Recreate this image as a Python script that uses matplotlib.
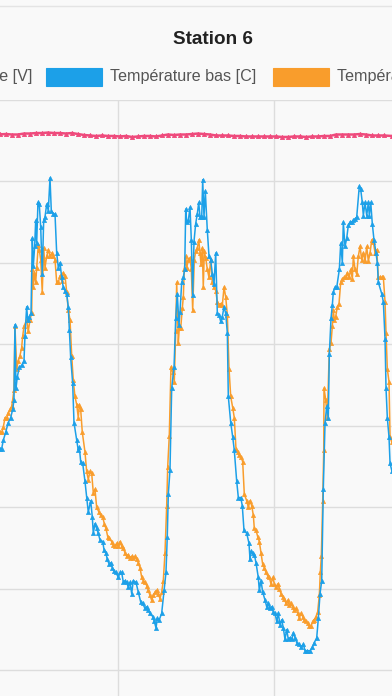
import matplotlib
matplotlib.use("Agg")
import matplotlib.pyplot as plt
from matplotlib.patches import Rectangle
from matplotlib.lines import Line2D

# hours relative to midnight of day 1, temperatures in C
bas_h = [-18.15, -17.89, -17.65, -17.28, -16.88, -16.51, -16.2, -16.0, -15.85, -15.69,
         -15.49, -15.18, -14.82, -14.46, -14.31, -14.05, -13.89, -13.65, -13.38, -13.18,
         -13.03, -12.82, -12.66, -12.51, -12.31, -12.11, -11.89, -11.65, -11.43, -11.23,
         -10.97, -10.72, -10.46, -10.26, -9.95, -9.69, -9.43, -9.18, -8.92, -8.66,
         -8.42, -8.15, -7.89, -7.65, -7.49, -7.28, -6.97, -6.77, -6.35, -6.11,
         -5.95, -5.74, -5.43, -5.08, -4.82, -4.57, -4.2, -3.95, -3.8, -3.54,
         -3.28, -3.03, -2.77, -2.35, -2.15, -1.85, -1.65, -1.34, -1.12, -0.88,
         -0.62, -0.31, 0.05, 0.31, 0.57, 0.82, 1.08, 1.34, 1.58, 1.85,
         2.11, 2.35, 2.77, 3.12, 3.49, 3.8, 4.15, 4.42, 4.66, 4.92,
         5.34, 5.58, 5.85, 6.05, 6.35, 6.72, 7.08, 7.38, 7.58, 7.74,
         8.0, 8.26, 8.62, 8.88, 9.12, 9.38, 9.54, 9.8, 10.05, 10.26,
         10.42, 10.57, 10.82, 11.08, 11.28, 11.49, 11.69, 11.95, 12.2, 12.42,
         12.62, 12.88, 13.03, 13.23, 13.43, 13.74, 14.0, 14.26, 14.51, 14.77,
         15.03, 15.28, 15.54, 15.8, 16.05, 16.31, 16.57, 16.82, 16.97, 17.34,
         17.65, 17.89, 18.26, 18.51, 18.88, 19.12, 19.38, 19.8, 20.15, 20.31,
         20.46, 20.72, 20.97, 21.23, 21.58, 21.74, 22.0, 22.26, 22.62, 22.88,
         23.12, 23.38, 23.65, 23.89, 24.15, 24.42, 24.66, 24.92, 25.18, 25.43,
         25.69, 25.95, 26.2, 26.46, 26.72, 26.97, 27.23, 27.49, 27.85, 28.15,
         28.51, 28.77, 29.12, 29.54, 29.89, 30.2, 30.57, 30.82, 31.08, 31.34,
         31.58, 31.85, 32.11, 32.35, 32.51, 32.77, 32.97, 33.12, 33.38, 33.65,
         34.05, 34.26, 34.51, 34.66, 34.92, 35.18, 35.43, 35.69, 35.95, 36.2,
         36.46, 36.72, 37.12, 37.34, 37.58, 37.74, 38.0, 38.26, 38.51, 38.66,
         38.88, 39.12, 39.38, 39.69, 39.89, 40.05, 40.57, 40.82, 41.08, 41.23,
         41.43, 41.69, 41.85, 42.15]
bas_t = [13.6, 13.6, 14.1, 14.6, 15.2, 15.5, 16.0, 16.6, 21.2, 17.3,
         18.0, 18.6, 18.7, 19.0, 20.5, 22.3, 21.5, 21.7, 21.9, 26.5,
         24.8, 26.0, 27.6, 26.2, 28.7, 28.6, 27.2, 24.3, 27.6, 27.8,
         28.6, 28.2, 30.2, 28.2, 28.0, 28.0, 25.6, 24.7, 25.0, 24.1,
         23.5, 23.3, 23.1, 22.3, 20.9, 19.2, 17.6, 15.2, 14.1, 13.5,
         13.7, 12.8, 12.7, 11.6, 10.6, 9.7, 10.4, 9.4, 8.4, 9.0,
         8.7, 8.4, 8.0, 7.9, 7.4, 7.2, 6.8, 6.5, 6.6, 6.3,
         6.1, 6.0, 5.7, 6.0, 6.0, 5.4, 5.5, 5.4, 5.1, 5.4,
         4.7, 5.5, 5.4, 4.8, 4.2, 4.1, 3.8, 3.9, 3.7, 3.5,
         3.3, 3.0, 2.6, 3.2, 3.1, 3.5, 4.9, 6.0, 8.2, 10.8,
         12.3, 17.3, 18.6, 21.6, 23.1, 21.2, 22.0, 23.8, 24.1, 24.6,
         28.3, 27.5, 27.6, 28.4, 26.4, 23.0, 26.3, 27.4, 28.0, 28.7,
         27.8, 27.8, 30.1, 27.8, 29.4, 27.0, 25.4, 25.2, 24.3, 23.7,
         25.6, 21.9, 21.8, 21.4, 21.7, 22.3, 21.9, 20.7, 16.8, 15.2,
         14.3, 13.5, 11.6, 10.6, 10.6, 10.1, 8.6, 8.4, 7.8, 6.8,
         7.3, 7.2, 7.1, 6.6, 5.7, 4.9, 5.5, 4.8, 4.3, 3.9,
         4.1, 3.8, 3.9, 3.6, 3.5, 3.0, 3.5, 2.8, 3.1, 2.6,
         1.9, 2.5, 1.9, 2.0, 1.9, 2.3, 2.0, 1.7, 1.6, 1.4,
         1.6, 1.2, 1.2, 1.2, 1.4, 1.7, 2.0, 3.2, 4.7, 5.5,
         11.1, 15.2, 16.2, 15.5, 19.4, 21.6, 22.4, 23.2, 23.5, 23.5,
         24.6, 26.2, 25.0, 27.5, 26.0, 26.5, 27.3, 27.5, 27.5, 27.6,
         27.7, 27.8, 29.7, 29.5, 28.7, 27.9, 28.7, 27.9, 28.7, 27.9,
         28.7, 27.4, 26.4, 25.6, 25.0, 23.8, 23.1, 22.6, 20.3, 17.3,
         15.5, 14.3, 12.7, 12.2]

haut_h = [-18.15, -17.89, -17.65, -17.38, -17.12, -16.88, -16.62, -16.35, -16.2, -16.0,
          -15.85, -15.58, -15.34, -15.08, -14.82, -14.66, -14.46, -14.05, -13.8, -13.54,
          -13.28, -13.18, -13.03, -12.88, -12.66, -12.51, -12.26, -12.11, -11.89, -11.65,
          -11.43, -11.23, -10.97, -10.72, -10.46, -10.2, -9.95, -9.69, -9.43, -9.18,
          -8.92, -8.66, -8.42, -8.15, -7.89, -7.65, -7.38, -7.12, -6.88, -6.62,
          -6.35, -6.11, -5.95, -5.74, -5.49, -5.08, -4.82, -4.57, -4.31, -4.05,
          -3.8, -3.54, -3.28, -2.92, -2.66, -2.35, -2.11, -1.85, -1.58, -1.34,
          -0.97, -0.72, -0.46, -0.2, 0.05, 0.31, 0.57, 0.82, 1.08, 1.34,
          1.58, 1.85, 2.11, 2.35, 2.62, 2.88, 3.12, 3.38, 3.65, 3.89,
          4.15, 4.42, 4.66, 4.92, 5.18, 5.43, 5.69, 5.95, 6.2, 6.46,
          6.72, 6.97, 7.23, 7.49, 7.65, 7.89, 8.15, 8.42, 8.66, 8.88,
          9.03, 9.28, 9.43, 9.65, 9.89, 10.05, 10.2, 10.42, 10.57, 10.82,
          11.08, 11.28, 11.49, 11.74, 11.95, 12.2, 12.42, 12.62, 12.77, 12.97,
          13.12, 13.28, 13.49, 13.74, 14.0, 14.26, 14.51, 14.77, 15.03, 15.28,
          15.54, 15.8, 16.05, 16.31, 16.57, 16.82, 17.08, 17.34, 17.65, 17.89,
          18.15, 18.42, 18.66, 18.92, 19.18, 19.43, 19.8, 20.05, 20.31, 20.57,
          20.82, 20.97, 21.23, 21.49, 21.74, 22.0, 22.26, 22.51, 22.77, 23.03,
          23.28, 23.54, 23.8, 24.05, 24.31, 24.57, 24.82, 25.08, 25.34, 25.58,
          25.85, 26.11, 26.35, 26.62, 26.88, 27.12, 27.38, 27.65, 27.89, 28.15,
          28.42, 28.66, 28.92, 29.18, 29.43, 29.69, 29.95, 30.2, 30.46, 30.72,
          30.97, 31.12, 31.28, 31.49, 31.65, 31.69, 31.95, 32.2, 32.51, 32.77,
          32.97, 33.12, 33.28, 33.49, 33.74, 34.0, 34.26, 34.51, 34.77, 35.03,
          35.28, 35.54, 35.8, 36.05, 36.2, 36.46, 36.72, 36.97, 37.23, 37.49,
          37.74, 38.0, 38.26, 38.51, 38.77, 39.03, 39.28, 39.54, 39.8, 40.05,
          40.31, 40.57, 40.82, 41.08, 41.23, 41.43, 41.69, 41.85, 42.11]
haut_t = [14.6, 14.6, 14.9, 15.5, 15.5, 15.8, 16.0, 16.2, 16.6, 17.2,
          21.1, 18.5, 19.0, 19.3, 19.8, 20.5, 21.1, 21.5, 20.8, 21.5,
          21.9, 24.6, 23.5, 24.4, 23.8, 24.7, 26.1, 25.8, 25.2, 23.2,
          25.9, 24.7, 25.4, 25.8, 25.4, 25.6, 25.4, 25.2, 23.8, 23.8,
          24.2, 23.9, 24.4, 24.2, 23.2, 22.1, 21.5, 19.3, 17.8, 16.8,
          16.3, 15.5, 16.3, 16.0, 14.6, 13.4, 12.2, 11.7, 12.2, 12.1,
          10.9, 11.1, 10.0, 9.7, 9.5, 9.4, 9.0, 8.7, 8.2, 8.1,
          7.9, 7.7, 7.6, 7.8, 7.6, 7.9, 7.6, 7.5, 7.2, 7.0,
          7.1, 6.9, 7.0, 6.9, 7.0, 6.8, 6.6, 6.3, 5.7, 5.5,
          5.4, 5.2, 4.9, 4.6, 4.3, 4.6, 4.8, 4.9, 4.7, 4.4,
          4.8, 5.5, 7.2, 10.1, 12.5, 14.4, 18.6, 18.3, 17.7, 20.8,
          23.8, 20.1, 21.0, 21.0, 22.2, 22.9, 24.6, 25.4, 24.7, 25.2,
          25.3, 24.6, 22.1, 25.2, 25.7, 25.9, 26.4, 25.6, 24.9, 25.9,
          23.5, 25.7, 25.3, 24.6, 24.1, 25.2, 23.8, 23.5, 23.3, 22.6,
          22.4, 22.5, 22.4, 23.5, 22.9, 21.8, 18.5, 16.8, 16.1, 15.5,
          13.6, 13.4, 13.2, 13.1, 12.8, 10.8, 10.4, 10.0, 10.4, 10.1,
          9.5, 8.7, 8.6, 8.2, 7.9, 7.2, 6.5, 6.3, 6.0, 5.8,
          5.7, 5.3, 5.7, 5.3, 5.1, 5.3, 5.0, 4.7, 4.5, 4.4,
          4.1, 4.3, 4.0, 4.1, 3.9, 3.7, 3.8, 3.5, 3.2, 3.5,
          3.3, 3.1, 3.0, 2.9, 2.7, 2.7, 3.0, 3.1, 3.3, 3.6,
          4.6, 6.0, 7.0, 10.4, 13.5, 17.3, 16.6, 15.5, 19.7, 20.1,
          21.1, 22.1, 21.5, 21.7, 22.3, 22.5, 23.8, 24.0, 24.1, 24.1,
          24.4, 24.1, 24.6, 24.0, 25.4, 24.6, 24.3, 25.4, 26.0, 25.2,
          25.6, 25.1, 26.0, 25.1, 25.6, 26.4, 26.3, 25.6, 25.8, 24.1,
          24.1, 24.1, 24.1, 22.6, 20.7, 18.5, 17.7, 14.3, 14.0]

tension_h = [-18.15, -17.23, -16.31, -15.38, -14.46, -13.54, -12.62, -11.69, -10.77, -9.85,
             -8.92, -8.0, -7.08, -6.15, -5.23, -4.31, -3.38, -2.46, -1.54, -0.62,
             0.31, 1.23, 2.15, 3.08, 4.0, 4.92, 5.85, 6.77, 7.69, 8.62,
             9.54, 10.46, 11.38, 12.31, 13.23, 14.15, 15.08, 16.0, 16.92, 17.85,
             18.77, 19.69, 20.62, 21.54, 22.46, 23.38, 24.31, 25.23, 26.15, 27.08,
             28.0, 28.92, 29.85, 30.77, 31.69, 32.62, 33.54, 34.46, 35.38, 36.31,
             37.23, 38.15, 39.08, 40.0, 40.92, 42.15]
tension_v = [32.88, 32.90, 32.87, 32.87, 32.93, 32.93, 32.96, 32.96, 32.99, 32.96,
             32.96, 32.93, 32.96, 32.90, 32.84, 32.81, 32.78, 32.81, 32.78, 32.78,
             32.75, 32.78, 32.72, 32.75, 32.78, 32.78, 32.75, 32.81, 32.87, 32.84,
             32.87, 32.87, 32.90, 32.93, 32.90, 32.87, 32.81, 32.81, 32.81, 32.78,
             32.78, 32.75, 32.75, 32.75, 32.75, 32.75, 32.75, 32.72, 32.72, 32.75,
             32.75, 32.72, 32.75, 32.75, 32.78, 32.78, 32.87, 32.87, 32.87, 32.87,
             32.90, 32.87, 32.81, 32.81, 32.81, 32.78]

labels = ["Tension batterie [V]", "Température bas [C]", "Température haut [C]"]
pink, blue, orange = "#ef4a7c", "#1ca0e8", "#f99d2c"

W, H = 392, 696
fig = plt.figure(figsize=(W / 100, H / 100), dpi=100)
fig.patch.set_facecolor("#f9f9f9")

ax = fig.add_axes([0, 0, 1, 1 - 99.8 / H])
ax.set_facecolor("#f9f9f9")
ax.plot(tension_h, tension_v, color=pink, lw=1.8, marker="^", ms=3.0, mew=0.6, zorder=5)
ax.plot(haut_h, haut_t, color=orange, lw=1.1, marker="^", ms=3.0, mew=0.5, zorder=3)
ax.plot(bas_h, bas_t, color=blue, lw=1.1, marker="^", ms=3.0, mew=0.5, zorder=4)

ax.set_xlim(-18.15, 42.15)
ax.set_ylim(-1.577, 35.0)
ax.set_xticks([0, 24])
ax.set_yticks(range(0, 36, 5))
ax.tick_params(length=0, labelbottom=False, labelleft=False)
ax.grid(True, color="#dddddd", lw=1.0)
for s in ax.spines.values():
    s.set_visible(False)

# card border line at the very top
fig.add_artist(Line2D([0, 1], [1 - 6 / H, 1 - 6 / H], color="#e4e4e4", lw=1.0))

fig.text(213 / W, 1 - 39 / H, "Station 6", ha="center", va="center",
         fontsize=13.6, fontweight="bold", color="#222222", family="Liberation Sans")

# legend (cropped on both sides, as in the screenshot)
ly = 1 - 77 / H
fig.text(32 / W, ly, labels[0], ha="right", va="center", fontsize=11.6,
         color="#555555", family="Liberation Sans")
for x0, col, lab in [(46, blue, labels[1]), (273, orange, labels[2])]:
    fig.add_artist(Rectangle((x0 / W, 1 - 86 / H), 56 / W, 18 / H,
                             transform=fig.transFigure, facecolor=col, edgecolor=col, lw=0.8))
    fig.text((x0 + 64) / W, ly, lab, ha="left", va="center", fontsize=11.6,
             color="#555555", family="Liberation Sans")

fig.savefig("out.png", dpi=100, facecolor=fig.get_facecolor())
